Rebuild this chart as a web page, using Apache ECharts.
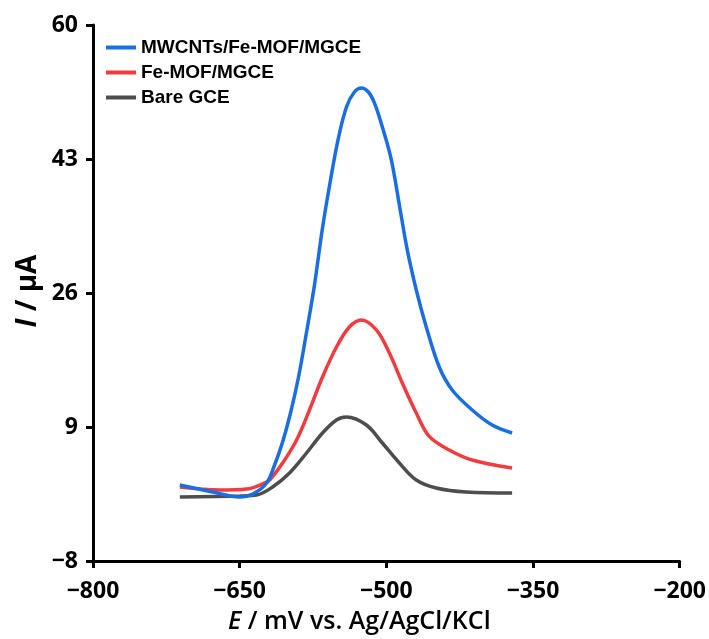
<!DOCTYPE html>
<html>
<head>
<meta charset="utf-8">
<script src="https://cdn.jsdelivr.net/npm/echarts@6/dist/echarts.min.js"></script>
<style>html,body{margin:0;padding:0;background:#fff}#c{width:709px;height:639px}</style>
</head>
<body>
<div id="c"></div>
<script>
var xTicks = [-800, -650, -500, -350, -200];
var yTicks = [-8, 9, 26, 43, 60];
var seriesNames = ['MWCNTs/Fe-MOF/MGCE', 'Fe-MOF/MGCE', 'Bare GCE'];
var blueData = [[-711.2,1.64],[-677.6,0.75],[-650,0.12],[-636.7,0.5],[-622.4,1.9],[-614.3,4.18],[-606.1,7.1],[-598,10.78],[-589.8,15.34],[-581.6,21.05],[-573.5,27.02],[-565.3,34.25],[-557.1,40.34],[-549,45.67],[-540.8,49.6],[-532.7,51.5],[-525.5,52.01],[-518.4,51.5],[-512.2,50.11],[-504.1,47.06],[-494.9,42.88],[-486.7,37.17],[-478.6,31.46],[-469.4,26.38],[-459.2,21.69],[-445.9,16.61],[-432.7,13.7],[-412.2,11.16],[-391.8,9.25],[-371.4,8.24]];
var redData = [[-711.2,1.39],[-670.4,1.01],[-642.9,1.13],[-626.5,1.77],[-619.4,2.28],[-606.1,4.43],[-591.8,7.35],[-578.6,11.16],[-565.3,15.34],[-551,19.15],[-537.8,21.69],[-525.5,22.58],[-510.2,21.31],[-496.9,18.39],[-483.7,14.58],[-469.4,10.78],[-456.1,7.8],[-435.7,6.08],[-412.2,4.81],[-371.4,3.8]];
var grayData = [[-711.2,0.12],[-650,0.25],[-632.7,0.37],[-616.3,1.39],[-599,3.16],[-581.6,5.7],[-565.3,8.24],[-551,9.89],[-540.8,10.27],[-520.4,9.25],[-504.1,6.97],[-486.7,4.43],[-469.4,2.28],[-449,1.26],[-418.4,0.75],[-371.4,0.63]];
var colors = ['#1a6ee3', '#f03b3f', '#4d4d4d'];
var xTitle = '{i|E} / mV vs. Ag/AgCl/KCl';
var yTitle = '{i|I} / \u03bcA';

var chart = echarts.init(document.getElementById('c'), null, {renderer: 'canvas'});
function fmt(v){ return String(v).replace('-', '\u2212'); }
var axisLineStyle = {color: '#000', width: 3};
var labelFont = {color: '#000', fontFamily: 'Open Sans, sans-serif', fontWeight: 'bold', fontSize: 23};
chart.setOption({
  animation: false,
  backgroundColor: '#fff',
  grid: {left: 93, right: 28, top: 25, bottom: 78, containLabel: false},
  legend: {
    left: 101, top: 33, orient: 'vertical', itemGap: 6,
    itemWidth: 30, itemHeight: 4,
    icon: 'rect',
    textStyle: {fontFamily: 'Liberation Sans, Arial, sans-serif', fontWeight: 'bold', fontSize: 19, color: '#000'},
    data: seriesNames
  },
  xAxis: {
    type: 'value', min: -800, max: -200,
    axisLine: {show: true, onZero: false, lineStyle: axisLineStyle},
    axisTick: {show: true, length: 7, lineStyle: {color: '#000', width: 3}, customValues: xTicks},
    axisLabel: Object.assign({customValues: xTicks, formatter: fmt, margin: 19}, labelFont),
    splitLine: {show: false}
  },
  yAxis: {
    type: 'value', min: -8, max: 60,
    axisLine: {show: true, onZero: false, lineStyle: axisLineStyle},
    axisTick: {show: true, length: 7, lineStyle: {color: '#000', width: 3}, customValues: yTicks},
    axisLabel: Object.assign({customValues: yTicks, formatter: fmt, margin: 15}, labelFont),
    splitLine: {show: false}
  },
  graphic: [
    {type: 'text', left: 360 - 132, top: 609, style: {text: xTitle, fill: '#000', font: '600 25px "Open Sans", sans-serif',
      rich: {i: {fontStyle: 'italic', fontFamily: 'Open Sans, sans-serif', fontSize: 25, fontWeight: 600, fill: '#000'}}}},
    {type: 'text', x: 14, y: 291, rotation: Math.PI / 2, style: {text: yTitle, fill: '#000', align: 'center', verticalAlign: 'top', font: 'bold 28px "Open Sans", sans-serif',
      rich: {i: {fontStyle: 'italic', fontFamily: 'Open Sans, sans-serif', fontSize: 28, fontWeight: 'bold', fill: '#000'}}}}
  ],
  series: [
    {name: seriesNames[0], type: 'line', data: blueData, smooth: 0.35, showSymbol: false, lineStyle: {width: 3.5, color: colors[0]}, itemStyle: {color: colors[0]}, z: 3},
    {name: seriesNames[1], type: 'line', data: redData, smooth: 0.35, showSymbol: false, lineStyle: {width: 3.5, color: colors[1]}, itemStyle: {color: colors[1]}, z: 2},
    {name: seriesNames[2], type: 'line', data: grayData, smooth: 0.35, showSymbol: false, lineStyle: {width: 3.5, color: colors[2]}, itemStyle: {color: colors[2]}, z: 1}
  ]
});
</script>
</body>
</html>
